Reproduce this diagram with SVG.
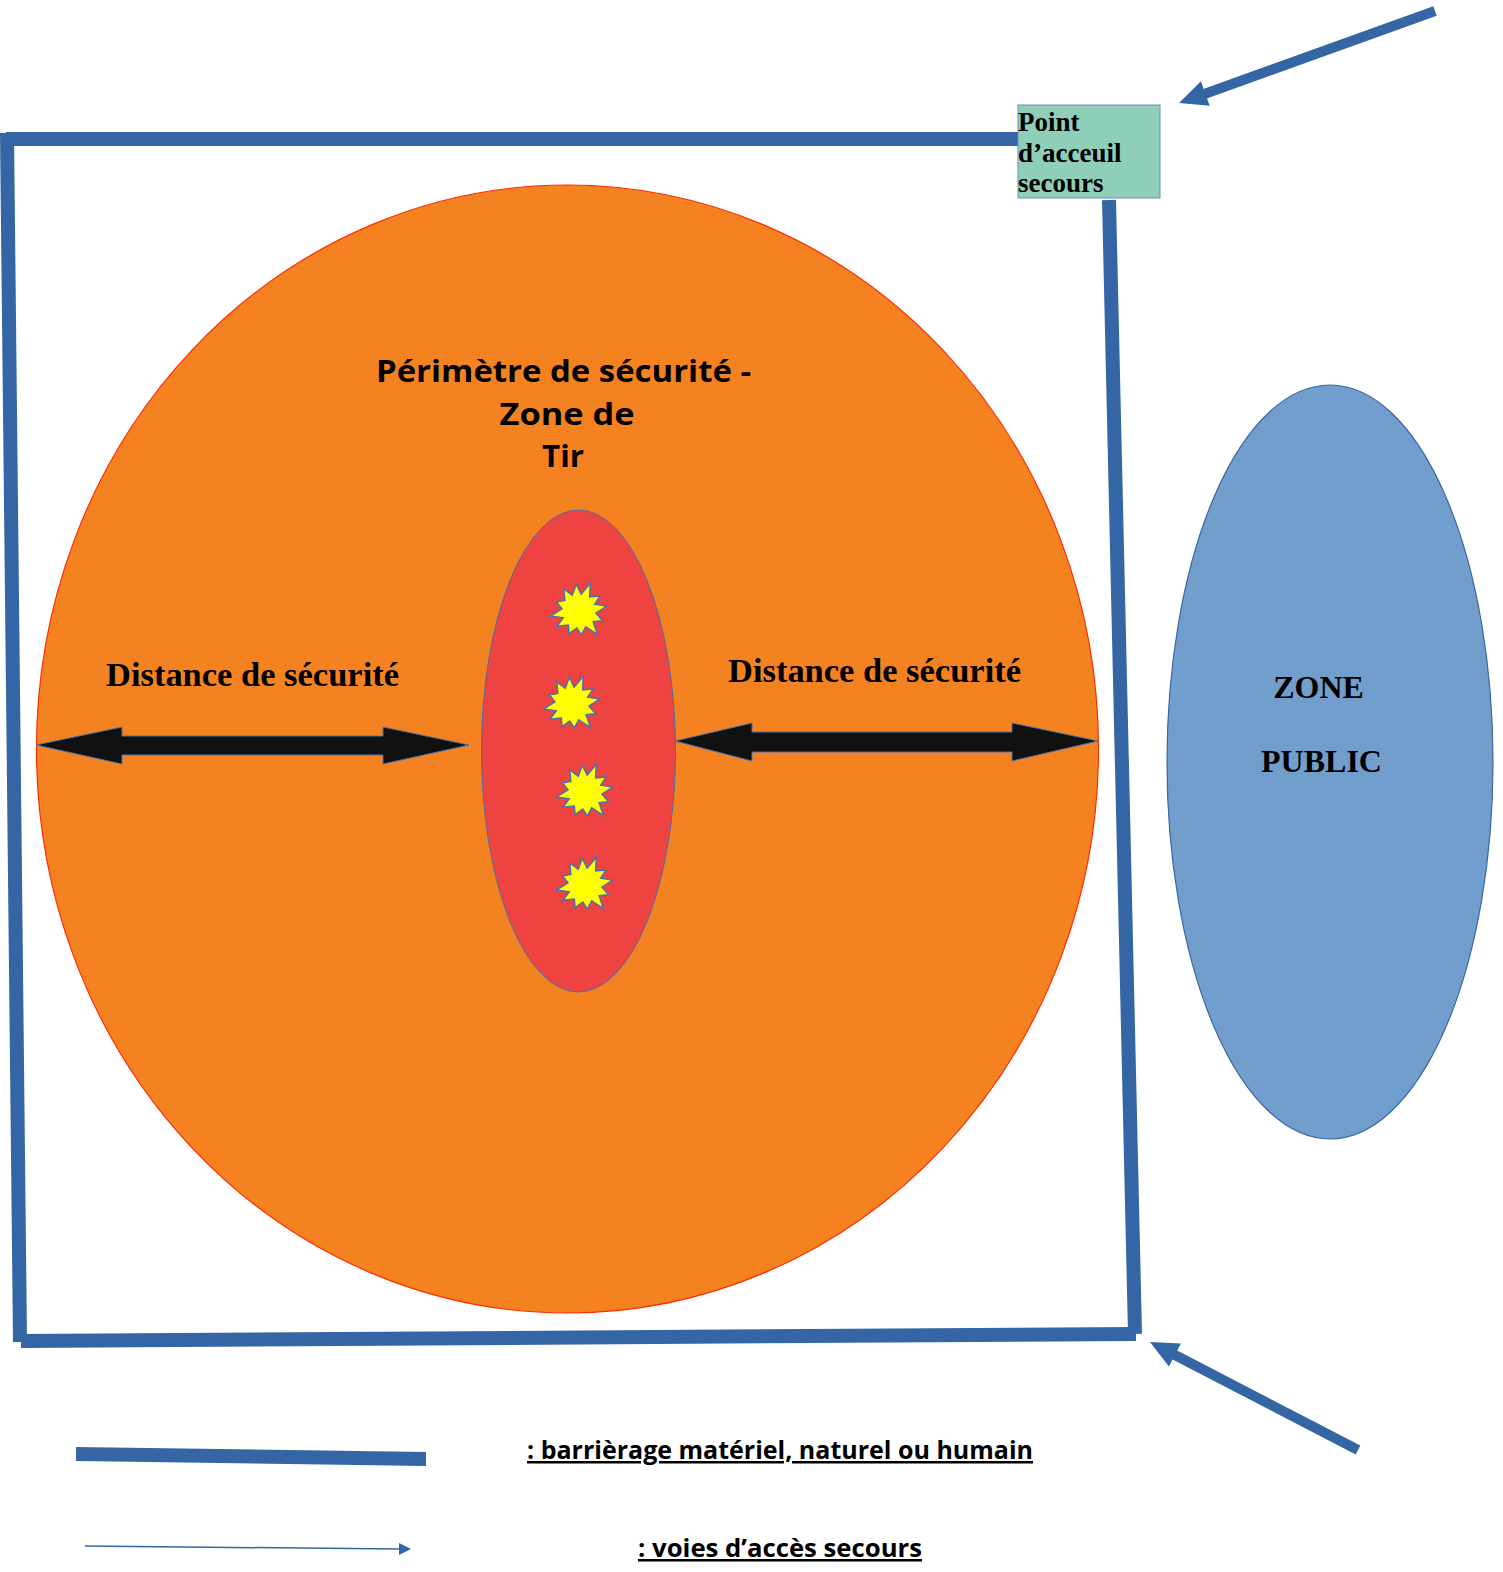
<svg xmlns="http://www.w3.org/2000/svg" xmlns:xlink="http://www.w3.org/1999/xlink" width="1503" height="1572" viewBox="0 0 1503 1572">
<style>
.bar{stroke:#3465A4;stroke-width:14;fill:none;stroke-linecap:butt}
.acc{stroke:#3465A4;stroke-width:10;fill:none}
.head{fill:#3465A4}
.dbl{fill:#111111;stroke:#4A72B0;stroke-width:1}
.serif{font-family:"Liberation Serif","Times New Roman",serif;font-weight:bold;fill:#000}
.title{font-family:"Open Sans",Lato,sans-serif;font-weight:bold;font-size:31px;fill:#000;text-anchor:middle}
.leg{font-family:"Open Sans","Liberation Sans",sans-serif;font-weight:bold;font-size:25px;fill:#000;text-decoration:underline}
.star{fill:#FFFF00;stroke:#4A72B0;stroke-width:1.5}
</style>
<defs>
<polygon id="burst" points="28,-1 16.5,4.5 22,13 12.5,12.5 15,26 4.5,16.5 -1,24 -4.5,16.5 -13,21 -12.5,12.5 -24,12 -16.5,4.5 -29,1 -16.5,-4.5 -21,-12 -12.5,-12.5 -12,-24 -4.5,-16.5 1,-27 4.5,-16.5 15,-26 12.5,-12.5 23,-12 16.5,-4.5"/>
</defs>
<rect width="1503" height="1572" fill="#FFFFFF"/>

<g id="perimetre">
<ellipse cx="567.5" cy="749" rx="531" ry="564" fill="#F48221" stroke="#FF2A00" stroke-width="1.2"/>
<text class="title" x="563.5" y="382" textLength="375" lengthAdjust="spacingAndGlyphs">Périmètre de sécurité -</text>
<text class="title" x="567" y="425" textLength="135" lengthAdjust="spacingAndGlyphs">Zone de</text>
<text class="title" x="563" y="467" textLength="42" lengthAdjust="spacingAndGlyphs">Tir</text>
</g>

<g id="zone-tir">
<ellipse cx="578.5" cy="751" rx="97" ry="241" fill="#EE4341" stroke="#4A6EA8" stroke-width="1"/>
<use xlink:href="#burst" class="star" transform="translate(579,611) rotate(-8)"/>
<use xlink:href="#burst" class="star" transform="translate(572,704) rotate(-8)"/>
<use xlink:href="#burst" class="star" transform="translate(585,792) rotate(-8)"/>
<use xlink:href="#burst" class="star" transform="translate(585,885) rotate(-8)"/>
</g>

<g id="zone-public">
<ellipse cx="1330" cy="762" rx="163" ry="377" fill="#729ECE" stroke="#3A66A6" stroke-width="1.2"/>
<text class="serif" x="1318.5" y="698" font-size="32" text-anchor="middle">ZONE</text>
<text class="serif" x="1321.5" y="772" font-size="32" text-anchor="middle">PUBLIC</text>
</g>

<g id="barrierage">
<line class="bar" x1="6" y1="139" x2="1020" y2="139"/>
<line class="bar" x1="7" y1="133" x2="20" y2="1342"/>
<line class="bar" x1="21" y1="1341" x2="1136" y2="1334"/>
<line class="bar" x1="1109" y1="200" x2="1135" y2="1334"/>
</g>

<g id="point-accueil">
<rect x="1018" y="105" width="142" height="93" fill="#8FCFB8" stroke="#6C8EBF" stroke-width="1"/>
<text class="serif" font-size="27" x="1018" y="131">Point</text>
<text class="serif" font-size="27" x="1018" y="162">d’acceuil</text>
<text class="serif" font-size="27" x="1018" y="192">secours</text>
</g>

<g id="distances">
<polygon class="dbl" points="36,745 122,727 122,736 383,736 383,727 469,745 383,764 383,755 122,755 122,764"/>
<text class="serif" font-size="34" x="106" y="686" textLength="293" lengthAdjust="spacingAndGlyphs">Distance de sécurité</text>
<polygon class="dbl" points="675,741 752,723 752,732 1012,732 1012,723 1098,741 1012,761 1012,752 752,752 752,761"/>
<text class="serif" font-size="34" x="728" y="682" textLength="293" lengthAdjust="spacingAndGlyphs">Distance de sécurité</text>
</g>

<g id="connecteurs">
<line class="acc" x1="1435" y1="11" x2="1203" y2="94.5"/>
<polygon class="head" points="1179,103 1209.7,105.7 1200.9,81.3"/>
<line class="acc" x1="1358" y1="1450" x2="1173" y2="1354"/>
<polygon class="head" points="1150,1342 1180.9,1343.4 1168.9,1366.4"/>
</g>

<g id="legende">
<polygon fill="#3465A4" points="76,1447 426,1452 426,1466 76,1461"/>
<text class="leg" x="527" y="1459" textLength="506" lengthAdjust="spacingAndGlyphs">: barrièrage matériel, naturel ou humain</text>
<line x1="85" y1="1546" x2="400" y2="1549" stroke="#3465A4" stroke-width="1.5"/>
<polygon class="head" points="399,1543 411,1549 399,1555"/>
<text class="leg" x="638" y="1557" textLength="284" lengthAdjust="spacingAndGlyphs">: voies d’accès secours</text>
</g>
</svg>
